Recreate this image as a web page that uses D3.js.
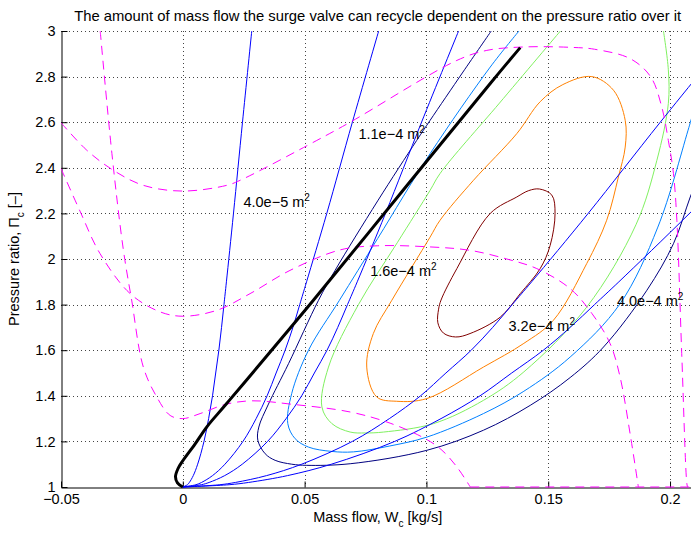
<!DOCTYPE html>
<html>
<head>
<meta charset="utf-8">
<script src="https://cdn.jsdelivr.net/npm/d3@7"></script>
<style>
body { margin: 0; background: #fff; }
text { font-family: "Liberation Sans", Arial, Helvetica, sans-serif; fill: #000; }
</style>
</head>
<body>
<div id="plot"></div>
<script>
// valve characteristics: pressure ratio grid and mass flow for each valve area
var valvePi = [1, 1.01, 1.02, 1.05, 1.1, 1.2, 1.3, 1.4, 1.5, 1.6, 1.7, 1.8, 1.9, 2.2, 2.6, 3.0];
var valveW_A1 = [0, 0.0019, 0.0027, 0.0043, 0.0061, 0.0087, 0.0106, 0.0122, 0.0135, 0.0148, 0.0159, 0.0169, 0.0179, 0.0208, 0.0245, 0.0283];
var valveW_A2 = [0, 0.0054, 0.0077, 0.0122, 0.0173, 0.0247, 0.0301, 0.0346, 0.0383, 0.0420, 0.0452, 0.0480, 0.0508, 0.0591, 0.0696, 0.0804];
var valveW_A3 = [0, 0.0076, 0.0108, 0.0172, 0.0244, 0.0348, 0.0424, 0.0488, 0.0540, 0.0592, 0.0636, 0.0676, 0.0716, 0.0832, 0.0980, 0.1132];
var valveW_A4 = [0, 0.0152, 0.0216, 0.0344, 0.0488, 0.0696, 0.0848, 0.0976, 0.1080, 0.1184, 0.1272, 0.1352, 0.1432, 0.1664, 0.1960, 0.2264];
var valveW_A5 = [0, 0.0190, 0.0270, 0.0430, 0.0610, 0.0870, 0.1060, 0.1220, 0.1350, 0.1480, 0.1590, 0.1690, 0.1790, 0.2080, 0.2450, 0.2830];

// area labels and where they sit (data coords of text start)
var areaLabels = ["4.0e\u22125", "1.1e\u22124", "1.6e\u22124", "3.2e\u22124", "4.0e\u22124"];
var labelW = [0.0249, 0.0721, 0.0769, 0.1337, 0.1782];
var labelPi = [2.229, 2.528, 1.924, 1.684, 1.794];

// contour lines [W, Pi]
var navyPts = [[0.1266,3.0],[0.1150,2.82],[0.1015,2.608],[0.0960,2.52],[0.0800,2.255],[0.0625,1.95],[0.0557,1.819],[0.0434,1.541],[0.0350,1.36],[0.0312,1.263],[0.0308,1.205],[0.0338,1.146],[0.0379,1.117],[0.0447,1.100],[0.0509,1.095],[0.0687,1.102],[0.1002,1.161],[0.1234,1.249],[0.1426,1.358],[0.1590,1.480],[0.1727,1.614],[0.1905,1.863],[0.2014,2.067],[0.2083,2.272],[0.2130,2.40]];
var dodgerPts = [[0.1380,3.0],[0.1262,2.842],[0.1015,2.462],[0.0800,2.09],[0.0643,1.819],[0.0516,1.60],[0.0447,1.41],[0.0431,1.278],[0.0461,1.212],[0.0516,1.175],[0.0612,1.156],[0.0700,1.154],[0.0850,1.180],[0.1002,1.219],[0.1234,1.322],[0.1400,1.420],[0.1590,1.570],[0.1795,1.804],[0.1950,2.140],[0.2074,2.565],[0.2110,2.70]];
var greenPts = [[0.1550,3.0],[0.1300,2.684],[0.1056,2.375],[0.1015,2.301],[0.0880,2.071],[0.0721,1.80],[0.0598,1.526],[0.0571,1.351],[0.0612,1.278],[0.0687,1.241],[0.0750,1.237],[0.0824,1.241],[0.1029,1.278],[0.1234,1.380],[0.1400,1.505],[0.1658,1.789],[0.1860,2.150],[0.1946,2.433],[0.1993,2.682],[0.1993,2.830],[0.1973,3.0]];
var orangePts = [[0.1679,2.800],[0.1768,2.740],[0.1816,2.608],[0.1816,2.491],[0.1788,2.360],[0.1740,2.170],[0.1658,1.980],[0.1521,1.731],[0.1400,1.630],[0.1234,1.526],[0.1002,1.388],[0.0878,1.376],[0.0796,1.395],[0.0755,1.526],[0.0782,1.673],[0.0858,1.819],[0.1015,2.096],[0.1056,2.170],[0.1193,2.345],[0.1371,2.550],[0.1467,2.690],[0.1560,2.765]];
var darkredPts = [[0.1464,2.307],[0.1515,2.280],[0.1528,2.200],[0.1508,2.060],[0.1467,1.958],[0.1385,1.848],[0.1303,1.745],[0.1179,1.673],[0.1120,1.658],[0.1070,1.675],[0.1047,1.720],[0.1050,1.780],[0.1060,1.820],[0.1125,1.958],[0.1262,2.200],[0.1371,2.272],[0.1420,2.300]];

// dashed magenta lines [W, Pi]
var mag1Pts = [[-0.0500,2.598],[-0.0394,2.477],[-0.0285,2.389],[-0.0162,2.323],[0.0,2.298],[0.0180,2.323],[0.0235,2.345],[0.0550,2.520],[0.0687,2.600],[0.1125,2.871],[0.1248,2.915],[0.1400,2.930],[0.1600,2.928],[0.1690,2.920],[0.1836,2.879],[0.1920,2.800],[0.1966,2.667],[0.1993,2.520],[0.2014,2.375],[0.2028,2.170],[0.2048,1.585],[0.2069,1.015],[0.2072,1.0]];
var mag2Pts = [[-0.0500,2.397],[-0.0422,2.210],[-0.0340,2.024],[-0.0216,1.848],[-0.0093,1.768],[0.0,1.749],[0.0140,1.775],[0.0276,1.848],[0.0440,1.950],[0.0646,2.040],[0.0800,2.058],[0.1015,2.053],[0.1179,2.038],[0.1330,2.000],[0.1453,1.958],[0.1590,1.870],[0.1680,1.760],[0.1754,1.629],[0.1795,1.482],[0.1836,1.234],[0.1870,1.0]];
var mag3Pts = [[-0.0339,3.0],[-0.0291,2.462],[-0.0244,2.040],[-0.0210,1.820],[-0.0162,1.526],[-0.0107,1.395],[-0.0052,1.314],[0.0,1.300],[0.0071,1.322],[0.0174,1.362],[0.0283,1.378],[0.0447,1.363],[0.0687,1.329],[0.0851,1.280],[0.0990,1.215],[0.1060,1.165],[0.1125,1.088],[0.1180,1.0]];
var mag3Tail = [[0.1180,1.0],[0.2150,1.0]];

// thick black line [W, Pi]
var blackPts = [[0.0,1.0],[-0.0022,1.018],[-0.0030,1.045],[-0.0020,1.080],[0.0000,1.115],[0.0050,1.188],[0.0098,1.263],[0.0180,1.366],[0.0536,1.819],[0.0900,2.296],[0.1262,2.770],[0.1385,2.927]];

var yTicks = [1, 1.2, 1.4, 1.6, 1.8, 2, 2.2, 2.4, 2.6, 2.8, 3];
var xTicks = [-0.05, 0, 0.05, 0.1, 0.15, 0.2];
var xTickLabels = ["\u22120.05", "0", "0.05", "0.1", "0.15", "0.2"];

var margin = {top: 31, left: 61};
var width = 633.4;
var height = 456;

var svg = d3.select("#plot").append("svg")
	.attr("width", 691)
	.attr("height", 533)
	.style("background", "#fff");

var x = d3.scaleLinear().domain([-0.05, 0.21]).range([margin.left, margin.left + width]);
var y = d3.scaleLinear().domain([1, 3]).range([margin.top + height, margin.top]);

// grid
var grid = svg.append("g")
	.attr("stroke", "#444")
	.attr("stroke-width", 1)
	.attr("stroke-dasharray", "1,3");
grid.selectAll(".gy").data(yTicks.slice(1)).enter().append("line")
	.attr("x1", margin.left).attr("x2", margin.left + width)
	.attr("y1", function(d) { return Math.round(y(d)) + 0.5; })
	.attr("y2", function(d) { return Math.round(y(d)) + 0.5; });
grid.selectAll(".gx").data(xTicks.slice(1)).enter().append("line")
	.attr("y1", margin.top).attr("y2", margin.top + height)
	.attr("x1", function(d) { return Math.round(x(d)) + 0.5; })
	.attr("x2", function(d) { return Math.round(x(d)) + 0.5; });

// axes
svg.append("g")
	.attr("transform", "translate(" + (margin.left + 0.5) + ",0)")
	.call(d3.axisLeft(y).tickValues(yTicks).tickSize(-6).tickSizeOuter(0).tickPadding(6)
		.tickFormat(function(d) { return String(+d.toFixed(1)); }));
svg.append("g")
	.attr("transform", "translate(0," + (margin.top + height + 0.5) + ")")
	.call(d3.axisBottom(x).tickValues(xTicks).tickSize(-6).tickSizeOuter(0).tickPadding(6)
		.tickFormat(function(d, i) { return xTickLabels[i]; }));
svg.selectAll(".tick text").style("font-size", "14.5px").attr("font-family", null);
svg.selectAll(".domain, .tick line").attr("stroke", "#000");

// clip
svg.append("clipPath").attr("id", "clip").append("rect")
	.attr("x", margin.left).attr("y", margin.top)
	.attr("width", width).attr("height", height + 2);

var plot = svg.append("g").attr("clip-path", "url(#clip)");

var line = d3.line()
	.x(function(d) { return x(d[0]); })
	.y(function(d) { return y(d[1]); })
	.curve(d3.curveCatmullRom.alpha(0.5));
var loop = d3.line()
	.x(function(d) { return x(d[0]); })
	.y(function(d) { return y(d[1]); })
	.curve(d3.curveCatmullRomClosed.alpha(0.5));
var straight = d3.line()
	.x(function(d) { return x(d[0]); })
	.y(function(d) { return y(d[1]); });

function draw(pts, color, gen, w, dash) {
	plot.append("path")
		.attr("d", gen(pts))
		.attr("fill", "none")
		.attr("stroke", color)
		.attr("stroke-width", w || 1)
		.attr("stroke-dasharray", dash || null);
}

draw(navyPts, "#000080", line);
draw(dodgerPts, "#0080ff", line);
draw(greenPts, "#80f060", line);
draw(orangePts, "#ff8000", loop);
draw(darkredPts, "#800000", loop);

var valveSeries = [valveW_A1, valveW_A2, valveW_A3, valveW_A4, valveW_A5];
valveSeries.forEach(function(ws) {
	var pts = ws.map(function(w, i) { return [w, valvePi[i]]; });
	draw(pts, "#0000ff", line);
});

draw(mag1Pts, "#ff00ff", line, 1, "9,6");
draw(mag2Pts, "#ff00ff", line, 1, "9,6");
draw(mag3Pts, "#ff00ff", line, 1, "9,6");
draw(mag3Tail, "#ff00ff", straight, 1, "9,6");

draw(blackPts, "#000", line, 3);

// area labels
areaLabels.forEach(function(s, i) {
	var t = svg.append("text")
		.attr("x", x(labelW[i]))
		.attr("y", y(labelPi[i]))
		.style("font-size", "14.5px");
	t.append("tspan").text(s + " m");
	t.append("tspan").text("2").style("font-size", "10px").attr("dy", -6);
});

// title
svg.append("text")
	.attr("x", margin.left + width / 2)
	.attr("y", 21)
	.attr("text-anchor", "middle")
	.style("font-size", "14.8px")
	.text("The amount of mass flow the surge valve can recycle dependent on the pressure ratio over it");

// x label
var xl = svg.append("text")
	.attr("x", margin.left + width / 2)
	.attr("y", 522)
	.attr("text-anchor", "middle")
	.style("font-size", "14.5px");
xl.append("tspan").text("Mass flow, W");
xl.append("tspan").text("c").style("font-size", "10px").attr("dy", 5);
xl.append("tspan").text(" [kg/s]").attr("dy", -5);

// y label
var yl = svg.append("text")
	.attr("transform", "translate(19," + (margin.top + height / 2) + ") rotate(-90)")
	.attr("text-anchor", "middle")
	.style("font-size", "14.5px");
yl.append("tspan").text("Pressure ratio, \u03a0");
yl.append("tspan").text("c").style("font-size", "10px").attr("dy", 5);
yl.append("tspan").text(" [\u2013]").attr("dy", -5);
</script>
</body>
</html>
